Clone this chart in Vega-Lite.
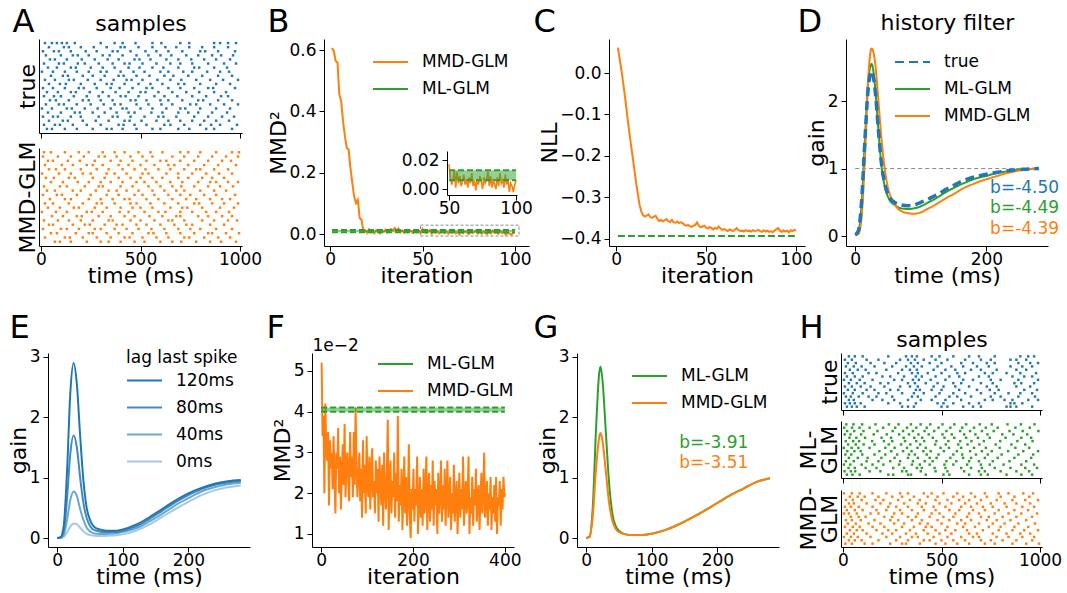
{
"$schema": "https://vega.github.io/schema/vega-lite/v6.json",
"background": "white",
"padding": {"left": 7, "top": 5, "right": 2, "bottom": 2},
"config": {
 "font": "DejaVu Sans",
 "view": {"stroke": null},
 "axis": {"domainColor": "#000000", "tickColor": "#000000", "labelColor": "#000000", "titleColor": "#000000", "grid": false, "labelFontSize": 17, "titleFontSize": 22, "titleFontWeight": "normal", "tickSize": 5, "tickWidth": 1, "domainWidth": 1, "labelFlush": false, "labelOverlap": false, "labelFont": "DejaVu Sans", "titleFont": "DejaVu Sans"},
 "axisX": {"labelPadding": 0, "titlePadding": -2},
 "axisY": {"labelPadding": 3, "titlePadding": -1.5},
 "legend": {"labelFontSize": 17, "titleFontSize": 17, "titleFontWeight": "normal", "labelFont": "DejaVu Sans", "titleFont": "DejaVu Sans", "labelColor": "#000000", "titleColor": "#000000", "symbolType": "stroke", "symbolSize": 1225, "symbolStrokeWidth": 2, "rowPadding": -11, "labelOffset": 13, "padding": 0, "titlePadding": 0, "orient": "none"}
},
"datasets": {
 "B": [{"i": [1,2,3,4,5,6,7,8,9,10,11,12,13,14,15,16,17,18,19,20,21,22,23,24,25,26,27,28,29,30,31,32,33,34,35,36,37,38,39,40,41,42,43,44,45,46,47,48,49,50,51,52,53,54,55,56,57,58,59,60,61,62,63,64,65,66,67,68,69,70,71,72,73,74,75,76,77,78,79,80,81,82,83,84,85,86,87,88,89,90,91,92,93,94,95,96,97,98,99,100],
  "v": [0.607,0.597,0.564,0.559,0.455,0.433,0.368,0.319,0.281,0.276,0.216,0.167,0.123,0.101,0.112,0.052,0.047,0.009,0.012,0.004,0.015,0.006,0.011,0.003,0.013,0.008,0.002,0.01,0.007,0.014,0.005,0.009,0.016,0.012,0.02,0.011,0.018,0.007,0.012,0.004,0.01,0.006,0.013,0.008,0.003,0.009,0.005,0.011,0.002,0.017,0.008,0.003,0.006,0.013,0.001,0.012,0.004,0.009,0.002,0.005,0.01,0.003,0.007,0.001,0.008,0.004,0.011,0.002,0.006,-0.001,0.007,0.003,0.009,0.005,0.0,0.008,0.004,0.006,0.012,0.002,0.009,0.001,0.007,0.003,0.0,0.008,0.002,0.011,0.004,0.006,0.001,0.01,0.003,0.007,-0.002,0.004,0.002,-0.002,0.003,0.006]}],
 "Bb": [{"i": 1, "lo": 0.006, "hi": 0.013}, {"i": 50, "lo": 0.006, "hi": 0.013}, {"i": 100, "lo": 0.006, "hi": 0.013}],
 "C": [{"i": [1,2,3,4,5,6,7,8,9,10,11,12,13,14,15,16,17,18,19,20,21,22,23,24,25,26,27,28,29,30,31,32,33,34,35,36,37,38,39,40,41,42,43,44,45,46,47,48,49,50,51,52,53,54,55,56,57,58,59,60,61,62,63,64,65,66,67,68,69,70,71,72,73,74,75,76,77,78,79,80,81,82,83,84,85,86,87,88,89,90,91,92,93,94,95,96,97,98,99,100],
  "v": [0.061,0.033,0.005,-0.027,-0.059,-0.096,-0.132,-0.165,-0.196,-0.228,-0.26,-0.29,-0.317,-0.334,-0.343,-0.346,-0.344,-0.341,-0.347,-0.349,-0.346,-0.344,-0.352,-0.357,-0.354,-0.358,-0.355,-0.352,-0.357,-0.359,-0.354,-0.36,-0.361,-0.358,-0.362,-0.36,-0.362,-0.366,-0.368,-0.366,-0.369,-0.371,-0.368,-0.366,-0.36,-0.368,-0.372,-0.37,-0.368,-0.373,-0.375,-0.371,-0.374,-0.377,-0.373,-0.376,-0.37,-0.375,-0.378,-0.376,-0.379,-0.381,-0.377,-0.379,-0.381,-0.378,-0.374,-0.379,-0.381,-0.38,-0.382,-0.379,-0.381,-0.38,-0.382,-0.379,-0.381,-0.38,-0.378,-0.381,-0.383,-0.379,-0.382,-0.38,-0.383,-0.381,-0.384,-0.38,-0.377,-0.374,-0.38,-0.383,-0.379,-0.382,-0.38,-0.384,-0.379,-0.381,-0.378,-0.38]}],
 "D": [
  {"m": "true", "t": [0,5,10,15,20,25,30,35,40,45,50,55,60,70,80,90,100,110,120,130,140,150,160,170,180,190,200,210,220,230,240,250,260,270,280], "g": [0.02,0.08,0.55,1.45,2.2,2.44,2.2,1.62,1.08,0.78,0.62,0.54,0.5,0.46,0.45,0.46,0.5,0.54,0.59,0.64,0.7,0.75,0.8,0.84,0.87,0.895,0.915,0.935,0.95,0.965,0.975,0.985,0.99,0.995,1.0]},
  {"m": "ML-GLM", "t": [0,5,10,15,20,25,30,35,40,45,50,55,60,70,80,90,100,110,120,130,140,150,160,170,180,190,200,210,220,230,240,250,260,270,280], "g": [0.02,0.07,0.5,1.45,2.3,2.55,2.25,1.62,1.05,0.74,0.58,0.5,0.46,0.41,0.4,0.41,0.44,0.49,0.54,0.6,0.66,0.71,0.76,0.8,0.84,0.87,0.89,0.92,0.94,0.955,0.97,0.98,0.99,0.995,1.0]},
  {"m": "MMD-GLM", "t": [0,5,10,15,20,25,30,35,40,45,50,55,60,70,80,90,100,110,120,130,140,150,160,170,180,190,200,210,220,230,240,250,260,270,280], "g": [0.01,0.03,0.3,1.2,2.35,2.78,2.6,2.05,1.45,1.0,0.72,0.56,0.47,0.37,0.34,0.33,0.35,0.4,0.45,0.51,0.57,0.62,0.68,0.73,0.77,0.81,0.84,0.87,0.9,0.93,0.95,0.97,0.985,0.995,1.0]}
 ],
 "E": [
  {"lag": "0ms", "t": [0,5,10,15,20,25,30,35,40,45,50,55,60,70,80,90,100,120,140,160,180,200,220,240,260,280], "g": [0,0.002,0.02,0.09,0.19,0.24,0.23,0.17,0.11,0.07,0.05,0.04,0.035,0.035,0.04,0.045,0.06,0.12,0.22,0.35,0.48,0.6,0.71,0.79,0.84,0.87]},
  {"lag": "40ms", "t": [0,5,10,15,20,25,30,35,40,45,50,55,60,70,80,90,100,120,140,160,180,200,220,240,260,280], "g": [0,0.005,0.05,0.3,0.63,0.77,0.7,0.48,0.3,0.17,0.11,0.08,0.07,0.065,0.07,0.08,0.1,0.16,0.27,0.4,0.54,0.66,0.77,0.84,0.89,0.915]},
  {"lag": "80ms", "t": [0,5,10,15,20,25,30,35,40,45,50,55,60,70,80,90,100,120,140,160,180,200,220,240,260,280], "g": [0,0.01,0.12,0.65,1.4,1.7,1.5,1.0,0.58,0.33,0.2,0.14,0.12,0.1,0.1,0.1,0.12,0.19,0.31,0.45,0.59,0.71,0.81,0.88,0.92,0.945]},
  {"lag": "120ms", "t": [0,5,10,15,20,25,30,35,40,45,50,55,60,70,80,90,100,120,140,160,180,200,220,240,260,280], "g": [0,0.01,0.2,1.1,2.4,2.9,2.55,1.7,0.95,0.5,0.3,0.2,0.16,0.13,0.12,0.12,0.14,0.22,0.34,0.48,0.62,0.74,0.83,0.9,0.94,0.96]}
 ],
 "F": [{"i": [1,3,5,7,9,11,13,15,17,19,21,23,25,27,29,31,33,35,37,39,41,43,45,47,49,51,53,55,57,59,61,63,65,67,69,71,73,75,77,79,81,83,85,87,89,91,93,95,97,99,101,103,105,107,109,111,113,115,117,119,121,123,125,127,129,131,133,135,137,139,141,143,145,147,149,151,153,155,157,159,161,163,165,167,169,171,173,175,177,179,181,183,185,187,189,191,193,195,197,199,201,203,205,207,209,211,213,215,217,219,221,223,225,227,229,231,233,235,237,239,241,243,245,247,249,251,253,255,257,259,261,263,265,267,269,271,273,275,277,279,281,283,285,287,289,291,293,295,297,299,301,303,305,307,309,311,313,315,317,319,321,323,325,327,329,331,333,335,337,339,341,343,345,347,349,351,353,355,357,359,361,363,365,367,369,371,373,375,377,379,381,383,385,387,389,391,393,395,397,399,400],
  "v": [5.2,3.4,3.9,2.0,4.2,3.1,2.8,3.5,1.7,3.3,2.6,3.0,2.1,3.4,2.4,1.5,3.0,2.6,3.6,2.0,2.9,1.6,2.5,3.2,2.2,3.7,1.9,2.7,3.0,2.3,1.8,3.5,2.4,2.9,1.9,3.5,2.2,4.1,2.6,1.9,2.5,3.0,1.8,2.6,1.4,3.3,2.0,2.7,1.5,3.4,2.2,1.9,2.9,1.6,2.5,3.1,1.9,2.3,1.5,2.8,2.0,2.6,1.3,2.9,2.2,1.7,2.7,1.2,3.0,2.1,1.6,2.4,3.8,1.1,2.2,2.8,1.5,2.3,1.9,3.0,1.4,2.5,1.8,3.9,1.3,2.2,1.7,2.6,1.1,2.0,2.9,1.5,2.4,1.2,1.9,3.2,1.4,0.9,2.1,1.6,2.6,1.3,2.1,1.7,2.9,1.0,1.8,2.4,1.4,2.1,1.2,2.6,1.5,2.0,2.9,1.1,1.9,2.5,1.3,2.2,1.6,2.8,1.2,2.3,1.7,2.1,1.0,2.5,1.5,1.9,2.8,1.3,2.2,1.6,2.6,1.2,2.0,2.8,1.4,1.8,2.4,1.1,2.0,1.5,2.7,1.3,1.9,2.3,1.0,1.8,2.5,1.4,2.1,1.6,2.9,1.2,1.8,2.3,1.5,2.0,2.9,1.0,1.9,1.5,2.4,1.2,2.1,1.7,2.6,1.3,1.8,2.2,1.1,1.9,2.5,1.5,2.0,3.0,1.4,1.8,2.3,1.2,2.0,1.6,2.4,1.1,1.9,1.5,2.2,1.3,2.4,1.0,1.9,1.7,2.3,1.2,2.1,1.6,2.4,1.9,2.0]}],
 "G": [
  {"m": "ML-GLM", "t": [0,5,10,15,20,22,25,30,35,40,45,50,55,60,70,80,90,100,120,140,160,180,200,220,240,260,280], "g": [0,0.02,0.5,1.8,2.75,2.84,2.6,1.75,0.9,0.4,0.2,0.12,0.08,0.06,0.05,0.05,0.055,0.07,0.13,0.22,0.33,0.45,0.58,0.71,0.82,0.93,0.99]},
  {"m": "MMD-GLM", "t": [0,5,10,15,20,22,25,30,35,40,45,50,55,60,70,80,90,100,120,140,160,180,200,220,240,260,280], "g": [0,0.015,0.35,1.15,1.68,1.74,1.6,1.1,0.58,0.28,0.15,0.1,0.075,0.06,0.05,0.05,0.055,0.07,0.13,0.22,0.33,0.45,0.58,0.71,0.82,0.93,0.99]}
 ],
 "R": [
  {"s":"At","tr":1,"t":[30,55,120,180,260,330,355,410,480,560,600,690,745,830,870,960]},
  {"s":"At","tr":2,"t":[15,70,95,160,230,300,390,415,470,530,620,650,720,800,855,900,985]},
  {"s":"At","tr":3,"t":[40,110,135,210,275,340,420,445,505,580,640,700,760,820,880,945]},
  {"s":"At","tr":4,"t":[10,60,85,150,200,290,360,385,450,520,590,615,680,770,840,910,970]},
  {"s":"At","tr":5,"t":[35,100,170,195,260,320,380,440,470,555,610,690,740,790,860,935]},
  {"s":"At","tr":6,"t":[5,55,130,155,220,285,350,410,430,500,560,630,700,725,800,880,950]},
  {"s":"At","tr":7,"t":[25,90,115,180,250,315,370,400,480,540,605,660,750,780,850,920,990]},
  {"s":"At","tr":8,"t":[45,75,140,210,240,300,360,450,475,530,600,640,710,790,815,890,960]},
  {"s":"At","tr":9,"t":[15,65,100,165,230,290,340,400,425,490,570,620,685,760,830,905,940]},
  {"s":"At","tr":10,"t":[30,85,150,175,245,310,375,440,500,525,590,660,730,795,870,930]},
  {"s":"At","tr":11,"t":[10,60,120,190,215,280,350,395,460,530,560,640,700,770,840,865,975]},
  {"s":"At","tr":12,"t":[40,95,125,200,270,330,355,420,490,550,610,690,720,800,880,950]},
  {"s":"At","tr":13,"t":[20,70,140,165,235,300,365,430,455,510,585,650,705,780,850,915,990]},
  {"s":"At","tr":14,"t":[50,110,135,210,260,320,390,415,480,545,620,665,740,810,890,960]},
  {"s":"At","tr":15,"t":[5,60,120,180,240,300,330,400,465,520,600,640,715,760,835,900,945]},
  {"s":"At","tr":16,"t":[35,80,150,175,250,310,370,440,495,560,615,690,770,795,870,935]},
  {"s":"At","tr":17,"t":[15,90,115,185,220,290,360,420,445,510,580,650,700,760,840,920,980]},
  {"s":"At","tr":18,"t":[45,70,130,205,270,335,390,470,495,550,630,690,755,820,880,950]},
  {"s":"At","tr":19,"t":[25,100,160,185,240,310,345,410,480,540,600,655,730,790,860,905,965]},
  {"s":"At","tr":20,"t":[10,65,90,150,225,280,360,385,450,525,580,640,710,800,825,890,975]},
  {"s":"At","tr":21,"t":[40,115,140,200,265,330,400,420,490,560,625,680,745,810,870,940]},
  {"s":"At","tr":22,"t":[20,55,80,105,130,170,300,370,410,475,560,605,700,745,870,900,940,980]},
  {"s":"Ad","tr":1,"t":[70,95,150,230,300,340,400,470,520,600,660,705,780,850,905,980]},
  {"s":"Ad","tr":2,"t":[20,120,145,210,280,350,420,445,510,580,640,720,745,820,890,950]},
  {"s":"Ad","tr":3,"t":[50,80,175,240,260,330,390,460,540,565,630,700,770,840,860,930,995]},
  {"s":"Ad","tr":4,"t":[10,100,130,190,270,300,370,430,490,555,620,690,750,800,880,960]},
  {"s":"Ad","tr":5,"t":[40,60,160,220,245,320,380,410,480,530,600,670,730,760,850,920]},
  {"s":"Ad","tr":6,"t":[15,85,140,200,260,340,360,450,500,570,640,660,720,810,870,940,985]},
  {"s":"Ad","tr":7,"t":[55,110,180,205,290,350,420,470,545,610,680,700,790,840,910,960]},
  {"s":"Ad","tr":8,"t":[5,75,130,230,255,310,395,440,520,590,625,700,760,830,880,945]},
  {"s":"Ad","tr":9,"t":[35,95,165,190,270,330,400,460,500,560,650,710,735,810,900,970]},
  {"s":"Ad","tr":10,"t":[20,60,140,210,280,305,370,450,480,550,620,690,770,795,860,920,990]},
  {"s":"Ad","tr":11,"t":[45,120,150,240,300,360,420,445,530,590,660,730,780,850,910,950]},
  {"s":"Ad","tr":12,"t":[10,80,105,180,250,330,390,470,510,570,640,700,750,820,880,975]},
  {"s":"Ad","tr":13,"t":[30,70,160,200,275,340,380,430,490,560,620,680,720,800,870,930]},
  {"s":"Ad","tr":14,"t":[15,95,130,220,290,310,400,460,540,600,660,705,770,840,900,965]},
  {"s":"Ad","tr":15,"t":[50,110,185,240,300,350,410,480,520,580,650,710,790,850,880,940,990]},
  {"s":"Ad","tr":16,"t":[25,65,140,170,260,320,390,450,500,560,610,690,740,810,860,920]},
  {"s":"Ad","tr":17,"t":[5,90,150,210,250,330,370,430,510,540,630,690,760,830,895,960]},
  {"s":"Ad","tr":18,"t":[40,75,120,200,280,340,410,470,525,590,650,720,780,800,870,940]},
  {"s":"Ad","tr":19,"t":[20,105,160,230,260,310,390,440,500,570,640,670,740,820,890,980]},
  {"s":"Ad","tr":20,"t":[35,60,135,195,270,350,400,460,530,600,630,700,770,840,910,955]},
  {"s":"Ad","tr":21,"t":[10,85,150,215,290,320,380,450,510,560,660,720,790,860,930,990]},
  {"s":"Ad","tr":22,"t":[15,50,120,190,240,310,370,420,490,550,610,700,740,800,880,960,995]},
  {"s":"Ht","tr":1,"t":[20,45,70,110,300,330,360,500,530,610,660,700,830,850,880,960]},
  {"s":"Ht","tr":2,"t":[10,35,60,90,230,290,370,480,510,560,640,690,850,870,910]},
  {"s":"Ht","tr":3,"t":[30,55,150,200,260,330,395,450,520,600,720,760,820,860,940,990]},
  {"s":"Ht","tr":4,"t":[15,40,80,130,170,250,350,380,470,540,580,650,750,800,890,975]},
  {"s":"Ht","tr":5,"t":[5,50,100,180,220,300,360,410,490,560,620,700,770,840,900,960]},
  {"s":"Ht","tr":6,"t":[25,60,120,160,240,280,370,390,450,500,590,680,745,790,920,985]},
  {"s":"Ht","tr":7,"t":[10,45,90,140,210,290,340,380,460,510,570,640,730,780,880,950]},
  {"s":"Ht","tr":8,"t":[30,70,110,190,230,330,365,420,480,560,600,700,760,870,905,970]},
  {"s":"Ht","tr":9,"t":[5,40,85,150,260,300,355,385,445,520,610,660,750,800,890,990]},
  {"s":"Ht","tr":10,"t":[20,60,100,200,240,310,370,400,470,540,590,690,740,860,920,960]},
  {"s":"Ht","tr":11,"t":[10,50,130,170,280,350,380,430,500,580,620,720,760,830,900,980]},
  {"s":"Ht","tr":12,"t":[35,75,115,220,300,340,375,460,520,570,650,700,780,880,930]},
  {"s":"Ht","tr":13,"t":[15,55,95,160,250,320,360,400,480,550,610,680,740,850,910,960]},
  {"s":"Ht","tr":14,"t":[25,65,140,210,270,345,380,440,500,600,660,730,770,890,950,990]},
  {"s":"Ht","tr":15,"t":[10,45,120,180,290,330,365,410,470,530,620,700,750,850,880,930]},
  {"s":"Ht","tr":16,"t":[30,60,100,230,320,350,375,450,490,560,640,690,770,900,940,970]},
  {"s":"Hm","tr":1,"t":[20,48,85,230,255,330,345,420,510,540,640,700,735,830,905,960]},
  {"s":"Hm","tr":2,"t":[8,40,62,135,190,300,322,395,470,530,615,690,720,800,880,945]},
  {"s":"Hm","tr":3,"t":[28,60,115,170,255,310,375,400,465,520,600,650,705,770,850,925,985]},
  {"s":"Hm","tr":4,"t":[5,37,95,150,205,285,350,390,440,515,560,630,700,745,815,905,970]},
  {"s":"Hm","tr":5,"t":[15,55,120,180,240,290,355,415,455,525,575,640,690,760,845,930]},
  {"s":"Hm","tr":6,"t":[30,75,125,195,262,330,380,440,475,545,610,650,720,785,870,955]},
  {"s":"Hm","tr":7,"t":[12,42,98,160,215,275,335,365,425,485,560,605,675,735,805,890,965]},
  {"s":"Hm","tr":8,"t":[22,58,90,185,245,305,348,408,445,512,578,645,705,755,838,915,990]},
  {"s":"Hm","tr":9,"t":[4,44,78,135,215,262,325,378,420,495,538,600,665,725,795,875,945]},
  {"s":"Hm","tr":10,"t":[26,65,105,160,232,295,342,392,468,522,585,632,692,775,855,925]},
  {"s":"Hm","tr":11,"t":[14,52,82,148,208,250,315,372,412,474,535,595,652,715,798,885,962]},
  {"s":"Hm","tr":12,"t":[33,68,112,196,244,308,362,402,456,515,565,625,685,745,825,905,955]},
  {"s":"Hm","tr":13,"t":[9,38,92,156,222,285,335,383,435,505,552,615,672,733,808,865,935]},
  {"s":"Hm","tr":14,"t":[21,57,104,175,252,305,355,414,463,525,595,645,705,765,845,912,992]},
  {"s":"Hm","tr":15,"t":[6,46,84,135,204,265,325,372,425,485,545,605,665,725,785,875,948]},
  {"s":"Hm","tr":16,"t":[17,53,97,165,233,282,345,394,443,505,565,625,694,755,835,903,972]},
  {"s":"Hd","tr":1,"t":[12,45,110,150,240,300,320,390,470,520,580,640,720,770,860,930,995]},
  {"s":"Hd","tr":2,"t":[30,60,95,180,270,330,410,440,500,560,620,700,750,810,880,960]},
  {"s":"Hd","tr":3,"t":[5,40,75,140,220,290,350,380,460,530,600,660,690,780,840,910,970]},
  {"s":"Hd","tr":4,"t":[20,55,120,200,250,320,370,430,490,550,640,680,760,830,900,950]},
  {"s":"Hd","tr":5,"t":[35,70,100,170,230,270,340,410,470,520,570,630,710,790,860,920,990]},
  {"s":"Hd","tr":6,"t":[10,50,85,150,210,300,360,420,450,530,610,670,740,800,870,940]},
  {"s":"Hd","tr":7,"t":[25,65,130,190,260,310,390,430,500,580,620,690,760,820,890,975]},
  {"s":"Hd","tr":8,"t":[15,45,90,160,240,280,350,400,480,540,600,650,730,780,850,930]},
  {"s":"Hd","tr":9,"t":[40,80,115,210,250,330,370,440,510,560,630,700,740,810,880,960]},
  {"s":"Hd","tr":10,"t":[5,30,70,140,180,260,300,380,450,490,570,640,690,770,840,905,985]},
  {"s":"Hd","tr":11,"t":[20,60,100,170,220,290,350,410,470,540,590,660,720,790,870,940]},
  {"s":"Hd","tr":12,"t":[10,40,80,150,230,270,330,400,460,520,600,650,710,760,830,910,970]},
  {"s":"Hd","tr":13,"t":[30,55,120,190,240,310,380,420,490,550,620,680,750,820,880,950]},
  {"s":"Hd","tr":14,"t":[15,50,95,165,205,280,340,390,470,530,590,640,700,780,860,925,990]},
  {"s":"Hd","tr":15,"t":[35,75,110,180,250,300,360,430,480,560,610,670,730,800,870,945]},
  {"s":"Hd","tr":16,"t":[5,45,85,150,220,290,330,410,450,510,580,650,720,790,840,915,965]}
 ]
},
"bounds": "full",
"spacing": 25,
"resolve": {"scale": {"stroke": "independent", "strokeDash": "independent", "fill": "independent"}, "legend": {"stroke": "independent", "strokeDash": "independent"}},
"vconcat": [
 {"bounds": "flush", "spacing": 0,
  "resolve": {"scale": {"stroke": "independent", "strokeDash": "independent", "fill": "independent"}, "legend": {"stroke": "independent", "strokeDash": "independent"}},
  "hconcat": [
  {"width": 203, "height": 207,
   "layer": [
    {"data": {"name": "R"}, "transform": [{"filter": "datum.s == 'At'"}, {"flatten": ["t"]}],
     "mark": {"type": "square", "size": 6, "color": "#1f77b4", "opacity": 1},
     "encoding": {
      "x": {"field": "t", "type": "quantitative", "scale": {"domain": [-10, 1010], "nice": false, "zero": false}, "axis": {"orient": "bottom", "values": [0, 500, 1000], "labels": false, "title": null, "offset": -113}},
      "y": {"field": "tr", "type": "quantitative", "scale": {"domain": [0, 23], "range": [94, 0], "nice": false, "zero": false}, "axis": {"orient": "left", "ticks": false, "labels": false, "title": "true", "titlePadding": 0}}}},
    {"data": {"name": "R"}, "transform": [{"filter": "datum.s == 'Ad'"}, {"flatten": ["t"]}],
     "mark": {"type": "square", "size": 6, "color": "#ff7f0e", "opacity": 1},
     "encoding": {
      "x": {"field": "t", "type": "quantitative", "axis": {"orient": "bottom", "values": [0, 500, 1000], "format": "d", "title": "time (ms)"}},
      "y": {"field": "tr", "type": "quantitative", "scale": {"domain": [0, 23], "range": [207, 109], "nice": false, "zero": false}, "axis": {"orient": "left", "ticks": false, "labels": false, "title": "MMD-GLM", "titlePadding": 0}}}},
    {"data": {"values": [{"t": 0, "tr": 1}]}, "mark": {"type": "point", "opacity": 0},
     "encoding": {"x": {"field": "t", "type": "quantitative", "axis": {"orient": "top", "title": "A", "labels": false, "ticks": false, "domain": false, "titleX": -27, "titleY": -8, "titleAlign": "left", "titleBaseline": "alphabetic", "titleFontSize": 32, "titleAngle": 0}}, "y": {"field": "tr", "type": "quantitative", "scale": {"domain": [0, 23], "range": [94, 0], "nice": false, "zero": false}, "axis": null}}},
    {"data": {"values": [{"t": 0, "tr": 1}]}, "mark": {"type": "point", "opacity": 0},
     "encoding": {"x": {"field": "t", "type": "quantitative", "axis": {"orient": "top", "title": "samples", "labels": false, "ticks": false, "domain": false, "titleX": 101.5, "titleY": -8.7, "titleAlign": "center", "titleBaseline": "alphabetic", "titleAngle": 0}}, "y": {"field": "tr", "type": "quantitative", "scale": {"domain": [0, 23], "range": [94, 0], "nice": false, "zero": false}, "axis": null}}}
   ],
   "resolve": {"scale": {"y": "independent"}, "axis": {"x": "independent", "y": "independent"}}},
  {"width": 82, "height": 207, "data": {"values": []}, "mark": {"type": "point", "opacity": 0}},
  {"width": 205, "height": 207,
   "layer": [
    {"data": {"name": "B"}, "transform": [{"flatten": ["i", "v"]}],
     "mark": {"type": "line", "strokeWidth": 2},
     "encoding": {
      "x": {"field": "i", "type": "quantitative", "scale": {"domain": [-3.3, 107.6], "nice": false, "zero": false}, "axis": {"values": [0, 50, 100], "title": "iteration"}},
      "y": {"field": "v", "type": "quantitative", "scale": {"domain": [-0.039, 0.636], "nice": false, "zero": false}, "axis": {"values": [0, 0.2, 0.4, 0.6], "format": ".1f", "title": "MMD²"}},
      "stroke": {"datum": "MMD-GLM", "type": "nominal", "scale": {"domain": ["MMD-GLM", "ML-GLM"], "range": ["#ff7f0e", "#2ca02c"]}, "legend": {"title": null, "legendX": 48, "legendY": 4.5}}}},
    {"data": {"name": "Bb"}, "mark": {"type": "area", "color": "#2ca02c", "opacity": 0.5},
     "encoding": {"x": {"field": "i", "type": "quantitative", "scale": {"domain": [-3.3, 107.6], "nice": false, "zero": false}, "axis": null}, "y": {"field": "lo", "type": "quantitative", "scale": {"domain": [-0.039, 0.636], "nice": false, "zero": false}, "axis": null}, "y2": {"field": "hi"}}},
    {"data": {"name": "Bb"}, "mark": {"type": "line", "color": "#2ca02c", "strokeWidth": 2, "strokeDash": [6, 3]},
     "encoding": {"x": {"field": "i", "type": "quantitative", "scale": {"domain": [-3.3, 107.6], "nice": false, "zero": false}, "axis": null}, "y": {"field": "lo", "type": "quantitative", "scale": {"domain": [-0.039, 0.636], "nice": false, "zero": false}, "axis": null}}},
    {"data": {"name": "Bb"}, "mark": {"type": "line", "color": "#2ca02c", "strokeWidth": 2, "strokeDash": [6, 3]},
     "encoding": {"x": {"field": "i", "type": "quantitative", "scale": {"domain": [-3.3, 107.6], "nice": false, "zero": false}, "axis": null}, "y": {"field": "hi", "type": "quantitative", "scale": {"domain": [-0.039, 0.636], "nice": false, "zero": false}, "axis": null}}},
    {"data": {"values": [{"x1": 48.9, "x2": 102.2, "y1": -0.0065, "y2": 0.029}]},
     "mark": {"type": "rect", "fill": "transparent", "stroke": "#8c8c8c", "strokeWidth": 1, "strokeDash": [3, 2]},
     "encoding": {"x": {"field": "x1", "type": "quantitative", "scale": {"domain": [-3.3, 107.6], "nice": false, "zero": false}, "axis": {"orient": "top", "title": "B", "labels": false, "ticks": false, "domain": false, "titleX": -57, "titleY": -8, "titleAlign": "left", "titleBaseline": "alphabetic", "titleFontSize": 32, "titleAngle": 0}}, "x2": {"field": "x2"}, "y": {"field": "y1", "type": "quantitative", "scale": {"domain": [-0.039, 0.636], "nice": false, "zero": false}, "axis": null}, "y2": {"field": "y2"}}},
    {"data": {"name": "B"}, "transform": [{"flatten": ["i", "v"]}, {"filter": "datum.i >= 50"}],
     "mark": {"type": "line", "color": "#ff7f0e", "strokeWidth": 1.6},
     "encoding": {
      "x": {"field": "i", "type": "quantitative", "scale": {"domain": [48.5, 100.7], "range": [123, 193], "nice": false, "zero": false}, "axis": {"values": [50, 100], "title": null, "orient": "bottom", "offset": -51}},
      "y": {"field": "v", "type": "quantitative", "scale": {"domain": [-0.0041, 0.0262], "range": [156, 112], "nice": false, "zero": false}, "axis": {"values": [0, 0.02], "format": ".2f", "title": null, "orient": "left", "offset": -123}}}},
    {"data": {"name": "Bb"}, "transform": [{"filter": "datum.i >= 50"}], "mark": {"type": "area", "color": "#2ca02c", "opacity": 0.5},
     "encoding": {"x": {"field": "i", "type": "quantitative", "scale": {"domain": [48.5, 100.7], "range": [123, 193], "nice": false, "zero": false}, "axis": null}, "y": {"field": "lo", "type": "quantitative", "scale": {"domain": [-0.0041, 0.0262], "range": [156, 112], "nice": false, "zero": false}, "axis": null}, "y2": {"field": "hi"}}},
    {"data": {"name": "Bb"}, "transform": [{"filter": "datum.i >= 50"}], "mark": {"type": "line", "color": "#2ca02c", "strokeWidth": 2, "strokeDash": [6, 3]},
     "encoding": {"x": {"field": "i", "type": "quantitative", "scale": {"domain": [48.5, 100.7], "range": [123, 193], "nice": false, "zero": false}, "axis": null}, "y": {"field": "lo", "type": "quantitative", "scale": {"domain": [-0.0041, 0.0262], "range": [156, 112], "nice": false, "zero": false}, "axis": null}}},
    {"data": {"name": "Bb"}, "transform": [{"filter": "datum.i >= 50"}], "mark": {"type": "line", "color": "#2ca02c", "strokeWidth": 2, "strokeDash": [6, 3]},
     "encoding": {"x": {"field": "i", "type": "quantitative", "scale": {"domain": [48.5, 100.7], "range": [123, 193], "nice": false, "zero": false}, "axis": null}, "y": {"field": "hi", "type": "quantitative", "scale": {"domain": [-0.0041, 0.0262], "range": [156, 112], "nice": false, "zero": false}, "axis": null}}}
   ],
   "resolve": {"scale": {"x": "independent", "y": "independent"}}},
  {"width": 80, "height": 207, "data": {"values": []}, "mark": {"type": "point", "opacity": 0}},
  {"width": 196, "height": 207,
   "layer": [
    {"data": {"name": "C"}, "transform": [{"flatten": ["i", "v"]}],
     "mark": {"type": "line", "color": "#ff7f0e", "strokeWidth": 2},
     "encoding": {
      "x": {"field": "i", "type": "quantitative", "scale": {"domain": [-3.95, 104.95], "nice": false, "zero": false}, "axis": {"values": [0, 50, 100], "title": "iteration"}},
      "y": {"field": "v", "type": "quantitative", "scale": {"domain": [-0.417, 0.082], "nice": false, "zero": false}, "axis": {"values": [0, -0.1, -0.2, -0.3, -0.4], "format": ".1f", "title": "NLL"}}}},
    {"data": {"values": [{"i": 1, "v": -0.393}, {"i": 100, "v": -0.393}]},
     "mark": {"type": "line", "color": "#2ca02c", "strokeWidth": 2, "strokeDash": [7, 3]},
     "encoding": {
      "x": {"field": "i", "type": "quantitative", "axis": {"orient": "top", "title": "C", "labels": false, "ticks": false, "domain": false, "titleX": -76, "titleY": -8, "titleAlign": "left", "titleBaseline": "alphabetic", "titleFontSize": 32, "titleAngle": 0}},
      "y": {"field": "v", "type": "quantitative"}}}
   ],
   "resolve": {"axis": {"x": "independent"}}},
  {"width": 41, "height": 207, "data": {"values": []}, "mark": {"type": "point", "opacity": 0}},
  {"width": 202, "height": 207,
   "layer": [
    {"data": {"values": [{"t": 0, "g": 1}, {"t": 280, "g": 1}]},
     "mark": {"type": "line", "color": "#8c8c8c", "strokeWidth": 1, "strokeDash": [4, 3]},
     "encoding": {
      "x": {"field": "t", "type": "quantitative", "scale": {"domain": [-14, 294], "nice": false, "zero": false}, "axis": {"values": [0, 200], "title": "time (ms)"}},
      "y": {"field": "g", "type": "quantitative", "scale": {"domain": [-0.148, 2.919], "nice": false, "zero": false}, "axis": {"values": [0, 1, 2], "format": ".0f", "title": "gain"}}}},
    {"data": {"name": "D"}, "transform": [{"filter": "datum.m != 'true'"}, {"flatten": ["t", "g"]}],
     "mark": {"type": "line", "strokeWidth": 2, "interpolate": "monotone"},
     "encoding": {
      "x": {"field": "t", "type": "quantitative", "axis": null},
      "y": {"field": "g", "type": "quantitative"},
      "stroke": {"field": "m", "type": "nominal", "scale": {"domain": ["true", "ML-GLM", "MMD-GLM"], "range": ["#1f77b4", "#2ca02c", "#ff7f0e"]}, "legend": {"title": null, "legendX": 48, "legendY": 4.5}},
      "strokeDash": {"field": "m", "type": "nominal", "scale": {"domain": ["true", "ML-GLM", "MMD-GLM"], "range": [[9, 5], [1, 0], [1, 0]]}, "legend": {"title": null, "legendX": 48, "legendY": 4.5}}}},
    {"data": {"name": "D"}, "transform": [{"filter": "datum.m == 'true'"}, {"flatten": ["t", "g"]}],
     "mark": {"type": "line", "strokeWidth": 3.5, "interpolate": "monotone"},
     "encoding": {
      "x": {"field": "t", "type": "quantitative", "axis": {"orient": "top", "title": "D", "labels": false, "ticks": false, "domain": false, "titleX": -49, "titleY": -8, "titleAlign": "left", "titleBaseline": "alphabetic", "titleFontSize": 32, "titleAngle": 0}},
      "y": {"field": "g", "type": "quantitative"},
      "stroke": {"field": "m", "type": "nominal"},
      "strokeDash": {"field": "m", "type": "nominal"}}},
    {"data": {"values": [{"x": 311, "y": 0.71, "l": "b=-4.50", "m": "true"}, {"x": 311, "y": 0.41, "l": "b=-4.49", "m": "ML-GLM"}, {"x": 311, "y": 0.10, "l": "b=-4.39", "m": "MMD-GLM"}]},
     "mark": {"type": "text", "align": "right", "baseline": "middle", "fontSize": 17},
     "encoding": {
      "x": {"field": "x", "type": "quantitative", "axis": {"orient": "top", "title": "history filter", "labels": false, "ticks": false, "domain": false, "titleX": 101, "titleY": -9.5, "titleAlign": "center", "titleBaseline": "alphabetic", "titleAngle": 0}},
      "y": {"field": "y", "type": "quantitative"},
      "text": {"field": "l"},
      "fill": {"field": "m", "type": "nominal", "scale": {"domain": ["true", "ML-GLM", "MMD-GLM"], "range": ["#1f77b4", "#2ca02c", "#ff7f0e"]}, "legend": null}}}
   ],
   "resolve": {"axis": {"x": "independent"}}}
 ]},
 {"bounds": "flush", "spacing": 0,
  "resolve": {"scale": {"stroke": "independent", "strokeDash": "independent", "fill": "independent"}, "legend": {"stroke": "independent", "strokeDash": "independent"}},
  "hconcat": [
  {"width": 9, "height": 194, "data": {"values": []}, "mark": {"type": "point", "opacity": 0}},
  {"width": 202, "height": 194,
   "layer": [
    {"data": {"name": "E"}, "transform": [{"flatten": ["t", "g"]}],
     "mark": {"type": "line", "strokeWidth": 2, "interpolate": "monotone"},
     "encoding": {
      "x": {"field": "t", "type": "quantitative", "scale": {"domain": [-14, 294], "nice": false, "zero": false}, "axis": {"values": [0, 100, 200], "title": "time (ms)"}},
      "y": {"field": "g", "type": "quantitative", "scale": {"domain": [-0.149, 3.066], "nice": false, "zero": false}, "axis": {"values": [0, 1, 2, 3], "format": ".0f", "title": "gain"}},
      "stroke": {"field": "lag", "type": "nominal", "scale": {"domain": ["120ms", "80ms", "40ms", "0ms"], "range": ["#1f77b4", "#418bbf", "#6da7ce", "#a5c9e1"]}, "legend": {"title": "lag last spike", "legendX": 78, "legendY": -3, "rowPadding": -13, "titlePadding": -5}}}},
    {"data": {"values": [{"t": 0, "g": 0}]}, "mark": {"type": "point", "opacity": 0},
     "encoding": {"x": {"field": "t", "type": "quantitative", "axis": {"orient": "top", "title": "E", "labels": false, "ticks": false, "domain": false, "titleX": -39, "titleY": -15.5, "titleAlign": "left", "titleBaseline": "alphabetic", "titleFontSize": 32, "titleAngle": 0}}, "y": {"field": "g", "type": "quantitative"}}}
   ],
   "resolve": {"axis": {"x": "independent"}}},
  {"width": 62, "height": 194, "data": {"values": []}, "mark": {"type": "point", "opacity": 0}},
  {"width": 202, "height": 194,
   "layer": [
    {"data": {"name": "F"}, "transform": [{"flatten": ["i", "v"]}],
     "mark": {"type": "line", "strokeWidth": 2},
     "encoding": {
      "x": {"field": "i", "type": "quantitative", "scale": {"domain": [-20, 420], "nice": false, "zero": false}, "axis": {"values": [0, 200, 400], "title": "iteration"}},
      "y": {"field": "v", "type": "quantitative", "scale": {"domain": [0.68, 5.44], "nice": false, "zero": false}, "axis": {"values": [1, 2, 3, 4, 5], "format": ".0f", "title": "MMD²"}},
      "stroke": {"datum": "MMD-GLM", "type": "nominal", "scale": {"domain": ["ML-GLM", "MMD-GLM"], "range": ["#2ca02c", "#ff7f0e"]}, "legend": {"title": null, "legendX": 65, "legendY": -7.5, "rowPadding": -13}}}},
    {"data": {"values": [{"i": 0, "lo": 4.0, "hi": 4.1}, {"i": 400, "lo": 4.0, "hi": 4.1}]}, "mark": {"type": "area", "color": "#2ca02c", "opacity": 0.5},
     "encoding": {"x": {"field": "i", "type": "quantitative", "axis": {"orient": "top", "title": "F", "labels": false, "ticks": false, "domain": false, "titleX": -46, "titleY": -15.5, "titleAlign": "left", "titleBaseline": "alphabetic", "titleFontSize": 32, "titleAngle": 0}}, "y": {"field": "lo", "type": "quantitative"}, "y2": {"field": "hi"}}},
    {"data": {"values": [{"i": 0, "lo": 4.0, "hi": 4.1}, {"i": 400, "lo": 4.0, "hi": 4.1}]}, "mark": {"type": "line", "color": "#2ca02c", "strokeWidth": 2, "strokeDash": [6, 3]},
     "encoding": {"x": {"field": "i", "type": "quantitative", "axis": {"orient": "top", "title": "1e−2", "labels": false, "ticks": false, "domain": false, "titleX": 0, "titleY": -3, "titleAlign": "left", "titleBaseline": "alphabetic", "titleFontSize": 17, "titleAngle": 0}}, "y": {"field": "lo", "type": "quantitative"}}},
    {"data": {"values": [{"i": 0, "lo": 4.0, "hi": 4.1}, {"i": 400, "lo": 4.0, "hi": 4.1}]}, "mark": {"type": "line", "color": "#2ca02c", "strokeWidth": 2, "strokeDash": [6, 3]},
     "encoding": {"x": {"field": "i", "type": "quantitative", "axis": null}, "y": {"field": "hi", "type": "quantitative"}}}
   ],
   "resolve": {"axis": {"x": "independent"}}},
  {"width": 63, "height": 194, "data": {"values": []}, "mark": {"type": "point", "opacity": 0}},
  {"width": 202, "height": 194,
   "layer": [
    {"data": {"name": "G"}, "transform": [{"flatten": ["t", "g"]}],
     "mark": {"type": "line", "strokeWidth": 2, "interpolate": "monotone"},
     "encoding": {
      "x": {"field": "t", "type": "quantitative", "scale": {"domain": [-14, 294], "nice": false, "zero": false}, "axis": {"values": [0, 100, 200], "title": "time (ms)"}},
      "y": {"field": "g", "type": "quantitative", "scale": {"domain": [-0.149, 3.066], "nice": false, "zero": false}, "axis": {"values": [0, 1, 2, 3], "format": ".0f", "title": "gain"}},
      "stroke": {"field": "m", "type": "nominal", "scale": {"domain": ["ML-GLM", "MMD-GLM"], "range": ["#2ca02c", "#ff7f0e"]}, "legend": {"title": null, "legendX": 54, "legendY": 4.5, "rowPadding": -13}}}},
    {"data": {"values": [{"x": 142, "y": 1.57, "l": "b=-3.91", "m": "ML-GLM"}, {"x": 142, "y": 1.24, "l": "b=-3.51", "m": "MMD-GLM"}]},
     "mark": {"type": "text", "align": "left", "baseline": "middle", "fontSize": 17},
     "encoding": {
      "x": {"field": "x", "type": "quantitative", "axis": {"orient": "top", "title": "G", "labels": false, "ticks": false, "domain": false, "titleX": -44, "titleY": -15.5, "titleAlign": "left", "titleBaseline": "alphabetic", "titleFontSize": 32, "titleAngle": 0}},
      "y": {"field": "y", "type": "quantitative"},
      "text": {"field": "l"},
      "fill": {"field": "m", "type": "nominal", "scale": {"domain": ["ML-GLM", "MMD-GLM"], "range": ["#2ca02c", "#ff7f0e"]}, "legend": null}}}
   ],
   "resolve": {"axis": {"x": "independent"}}},
  {"width": 62, "height": 194, "data": {"values": []}, "mark": {"type": "point", "opacity": 0}},
  {"width": 201, "height": 194,
   "layer": [
    {"data": {"name": "R"}, "transform": [{"filter": "datum.s == 'Ht'"}, {"flatten": ["t"]}],
     "mark": {"type": "square", "size": 6, "color": "#1f77b4", "opacity": 1},
     "encoding": {
      "x": {"field": "t", "type": "quantitative", "scale": {"domain": [-10, 1010], "nice": false, "zero": false}, "axis": {"orient": "bottom", "values": [0, 500, 1000], "labels": false, "title": null, "offset": -137}},
      "y": {"field": "tr", "type": "quantitative", "scale": {"domain": [0, 17], "range": [57, 0], "nice": false, "zero": false}, "axis": {"orient": "left", "ticks": false, "labels": false, "title": "true", "titlePadding": 0}}}},
    {"data": {"name": "R"}, "transform": [{"filter": "datum.s == 'Hm'"}, {"flatten": ["t"]}],
     "mark": {"type": "square", "size": 6, "color": "#2ca02c", "opacity": 1},
     "encoding": {
      "x": {"field": "t", "type": "quantitative", "axis": {"orient": "bottom", "values": [0, 500, 1000], "labels": false, "title": null, "offset": -69}},
      "y": {"field": "tr", "type": "quantitative", "scale": {"domain": [0, 17], "range": [125, 68], "nice": false, "zero": false}, "axis": {"orient": "left", "ticks": false, "labels": false, "title": ["ML-", "GLM"], "titlePadding": 0, "titleLineHeight": 21}}}},
    {"data": {"name": "R"}, "transform": [{"filter": "datum.s == 'Hd'"}, {"flatten": ["t"]}],
     "mark": {"type": "square", "size": 6, "color": "#ff7f0e", "opacity": 1},
     "encoding": {
      "x": {"field": "t", "type": "quantitative", "axis": {"orient": "bottom", "values": [0, 500, 1000], "format": "d", "title": "time (ms)"}},
      "y": {"field": "tr", "type": "quantitative", "scale": {"domain": [0, 17], "range": [194, 137], "nice": false, "zero": false}, "axis": {"orient": "left", "ticks": false, "labels": false, "title": ["MMD-", "GLM"], "titlePadding": 0, "titleLineHeight": 21}}}},
    {"data": {"values": [{"t": 0, "tr": 1}]}, "mark": {"type": "point", "opacity": 0},
     "encoding": {"x": {"field": "t", "type": "quantitative", "axis": {"orient": "top", "title": "H", "labels": false, "ticks": false, "domain": false, "titleX": -42, "titleY": -15.5, "titleAlign": "left", "titleBaseline": "alphabetic", "titleFontSize": 32, "titleAngle": 0}}, "y": {"field": "tr", "type": "quantitative", "scale": {"domain": [0, 17], "range": [57, 0], "nice": false, "zero": false}, "axis": null}}},
    {"data": {"values": [{"t": 0, "tr": 1}]}, "mark": {"type": "point", "opacity": 0},
     "encoding": {"x": {"field": "t", "type": "quantitative", "axis": {"orient": "top", "title": "samples", "labels": false, "ticks": false, "domain": false, "titleX": 100.5, "titleY": -7, "titleAlign": "center", "titleBaseline": "alphabetic", "titleAngle": 0}}, "y": {"field": "tr", "type": "quantitative", "scale": {"domain": [0, 17], "range": [57, 0], "nice": false, "zero": false}, "axis": null}}}
   ],
   "resolve": {"scale": {"y": "independent"}, "axis": {"x": "independent", "y": "independent"}}}
 ]}
]
}
